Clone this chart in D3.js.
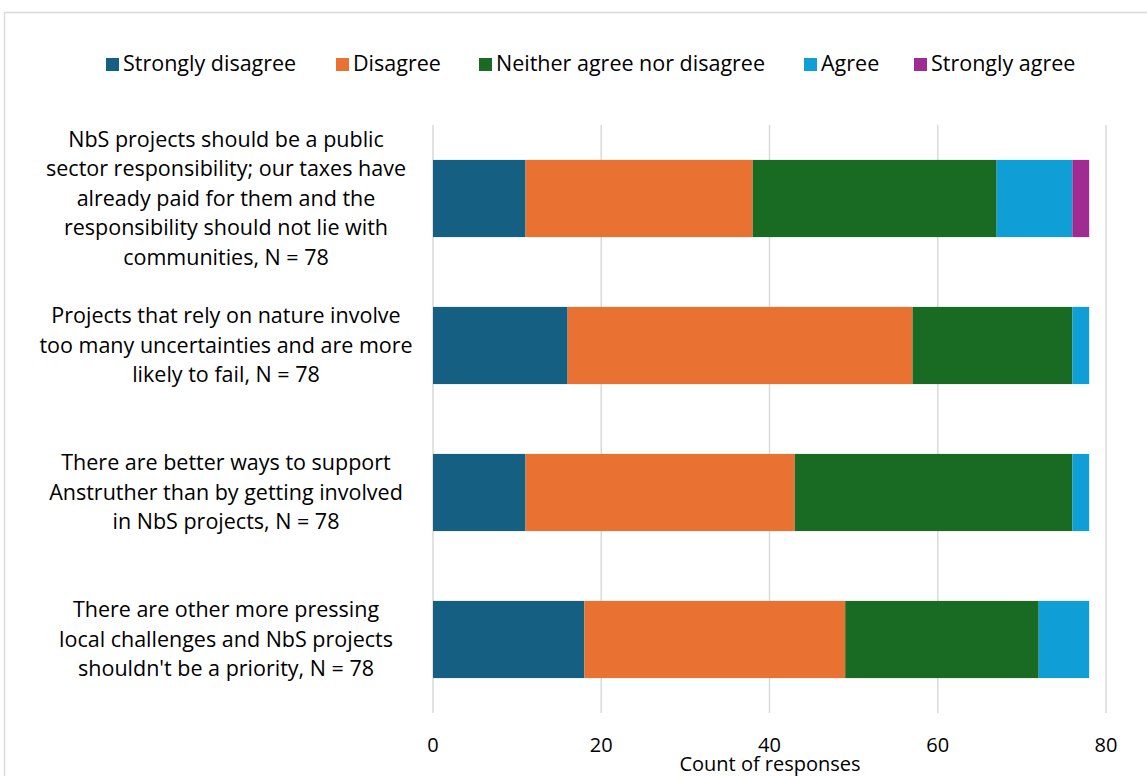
<!DOCTYPE html>
<html>
<head>
<meta charset="utf-8">
<script src="https://cdn.jsdelivr.net/npm/d3@7"></script>
<style>
  body { margin: 0; background: #fff; }
  svg text { font-family: "Open Sans", "Liberation Sans", Arial, sans-serif; fill: #000; }
</style>
</head>
<body>
<div id="chart"></div>
<script>
// 数据
const categories = [
  "NbS projects should be a public|sector responsibility; our taxes have|already paid for them and the|responsibility should not lie with|communities, N = 78",
  "Projects that rely on nature involve|too many uncertainties and are more|likely to fail, N = 78",
  "There are better ways to support|Anstruther than by getting involved|in NbS projects, N = 78",
  "There are other more pressing|local challenges and NbS projects|shouldn't be a priority, N = 78"
];
const seriesNames = ["Strongly disagree", "Disagree", "Neither agree nor disagree", "Agree", "Strongly agree"];
const stronglyDisagree = [11, 16, 11, 18];
const disagree = [27, 41, 32, 31];
const neither = [29, 19, 33, 23];
const agree = [9, 2, 2, 6];
const stronglyAgree = [2, 0, 0, 0];
const xTicks = [0, 20, 40, 60, 80];
const colors = ["#156082", "#E97132", "#196B24", "#0F9ED5", "#A02B93"];

const width = 1147, height = 776;
const svg = d3.select("#chart").append("svg")
  .attr("width", width).attr("height", height);

// 外框
svg.append("rect")
  .attr("x", 4.5).attr("y", 12.5)
  .attr("width", width + 10).attr("height", height + 10)
  .attr("fill", "none").attr("stroke", "#d9d9d9").attr("stroke-width", 1.5);

const plot = { left: 433, right: 1106, top: 125, bottom: 713 };

const x = d3.scaleLinear().domain([0, 80]).range([plot.left, plot.right]);
const y = d3.scaleBand().domain(d3.range(categories.length))
  .range([plot.top, plot.bottom]).paddingInner(0.475).paddingOuter(0.2375);

// 网格线
svg.append("g").selectAll("line").data(xTicks).enter().append("line")
  .attr("x1", d => x(d)).attr("x2", d => x(d))
  .attr("y1", plot.top).attr("y2", plot.bottom)
  .attr("stroke", "#d9d9d9").attr("stroke-width", 1.5);

// 堆叠数据
const rows = categories.map((c, i) => ({
  idx: i,
  "Strongly disagree": stronglyDisagree[i],
  "Disagree": disagree[i],
  "Neither agree nor disagree": neither[i],
  "Agree": agree[i],
  "Strongly agree": stronglyAgree[i]
}));
const stacked = d3.stack().keys(seriesNames)(rows);

svg.append("g").selectAll("g").data(stacked).enter().append("g")
  .attr("fill", (d, i) => colors[i])
  .selectAll("rect").data(d => d).enter().append("rect")
  .attr("x", d => x(d[0]))
  .attr("width", d => x(d[1]) - x(d[0]))
  .attr("y", d => y(d.data.idx))
  .attr("height", y.bandwidth());

// 类别标签
const lineH = 29.5;
categories.forEach((c, i) => {
  const lines = c.split("|");
  const cy = y(i) + y.bandwidth() / 2;
  const t = svg.append("text")
    .attr("text-anchor", "middle")
    .attr("font-size", 21.5);
  lines.forEach((ln, j) => {
    t.append("tspan")
      .attr("x", 226)
      .attr("y", cy + (j - (lines.length - 1) / 2) * lineH + 7)
      .text(ln);
  });
});

// x轴刻度
svg.append("g").selectAll("text").data(xTicks).enter().append("text")
  .attr("x", d => x(d)).attr("y", 752)
  .attr("text-anchor", "middle").attr("font-size", 20)
  .text(d => d);

svg.append("text")
  .attr("x", 770).attr("y", 771)
  .attr("text-anchor", "middle").attr("font-size", 20)
  .text("Count of responses");

// 图例
const legendX = [106, 336, 479, 804, 914];
const legend = svg.append("g").selectAll("g").data(seriesNames).enter().append("g")
  .attr("transform", (d, i) => `translate(${legendX[i]},58)`);
legend.append("rect").attr("width", 13).attr("height", 13)
  .attr("fill", (d, i) => colors[i]);
legend.append("text").attr("x", 17).attr("y", 13)
  .attr("font-size", 21.5).text(d => d);
</script>
</body>
</html>
